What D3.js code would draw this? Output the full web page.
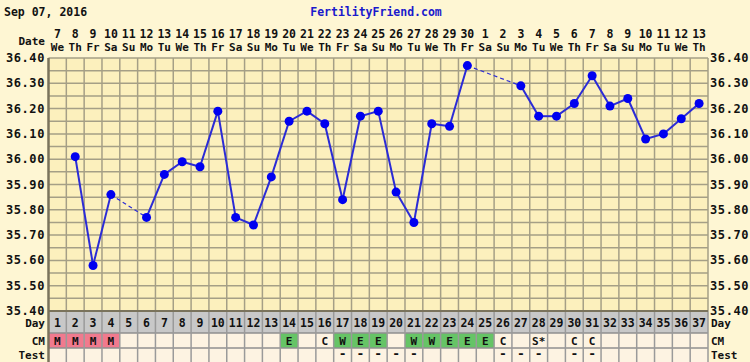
<!DOCTYPE html>
<html>
<head>
<meta charset="utf-8">
<script src="https://cdn.jsdelivr.net/npm/d3@7"></script>
<style>
  html, body { margin: 0; padding: 0; background: #fef6d3; }
  svg { display: block; }
  text { font-family: "DejaVu Sans Mono", monospace; font-weight: bold; fill: #111; }
</style>
</head>
<body>
<svg id="chart"></svg>
<script>
// chart data
const dayNums = [1,2,3,4,5,6,7,8,9,10,11,12,13,14,15,16,17,18,19,20,21,22,23,24,25,26,27,28,29,30,31,32,33,34,35,36,37];
const dates = [7,8,9,10,11,12,13,14,15,16,17,18,19,20,21,22,23,24,25,26,27,28,29,30,1,2,3,4,5,6,7,8,9,10,11,12,13];
const weekdays = ["We","Th","Fr","Sa","Su","Mo","Tu","We","Th","Fr","Sa","Su","Mo","Tu","We","Th","Fr","Sa","Su","Mo","Tu","We","Th","Fr","Sa","Su","Mo","Tu","We","Th","Fr","Sa","Su","Mo","Tu","We","Th"];
const temps = [null,36.01,35.58,35.86,null,35.77,35.94,35.99,35.97,36.19,35.77,35.74,35.93,36.15,36.19,36.14,35.84,36.17,36.19,35.87,35.75,36.14,36.13,36.37,null,null,36.29,36.17,36.17,36.22,36.33,36.21,36.24,36.08,36.10,36.16,36.22];
const cm = ["M","M","M","M","","","","","","","","","","E","","C","W","E","E","","W","W","E","E","E","C","","S*","","C","C","","","","","",""];
const tests = ["","","","","","","","","","","","","","","","","-","-","-","-","-","","","","","-","-","-","","-","-","","","","","",""];
const yTicks = [36.40,36.30,36.20,36.10,36.00,35.90,35.80,35.70,35.60,35.50,35.40];

const W = 750, H = 362;
const pLeft = 48.5, pRight = 708, pTop = 58, pBottom = 311;

const svg = d3.select("#chart").attr("width", W).attr("height", H);

const x = d3.scaleBand().domain(dayNums).range([pLeft, pRight]);
const y = d3.scaleLinear().domain([35.40, 36.40]).range([pBottom, pTop]);
const cx = d => x(d) + x.bandwidth() / 2;

// header
svg.append("text").attr("x", 4).attr("y", 16).style("font-size", "11.5px").text("Sep 07, 2016");
svg.append("text").attr("x", 376).attr("y", 16).attr("text-anchor", "middle")
  .style("font-size", "11.5px").style("fill", "#1a1acc").text("FertilityFriend.com");
svg.append("text").attr("x", 45).attr("y", 45).attr("text-anchor", "end").style("font-size", "11px").text("Date");

svg.append("g").selectAll("text").data(dayNums).join("text")
  .attr("x", d => cx(d)).attr("y", 38).attr("text-anchor", "middle")
  .style("font-size", "11.5px").text((d, i) => dates[i]);
svg.append("g").selectAll("text").data(dayNums).join("text")
  .attr("x", d => cx(d)).attr("y", 51).attr("text-anchor", "middle")
  .style("font-size", "11px").text((d, i) => weekdays[i]);

// plot background
svg.append("rect").attr("x", pLeft).attr("y", pTop).attr("width", pRight - pLeft).attr("height", pBottom - pTop)
  .attr("fill", "#fcf0bd");

// grid
const gridColor = "#a59f86";
const hLines = d3.range(0, 21).map(i => 35.40 + i * 0.05);
const colEdges = dayNums.slice(1).map(d => x(d)).concat([pRight]);
svg.append("g").selectAll("line").data(hLines).join("line")
  .attr("x1", pLeft).attr("x2", pRight).attr("y1", d => y(d)).attr("y2", d => y(d))
  .attr("stroke", gridColor).attr("stroke-width", 1.5);
svg.append("g").selectAll("line").data(colEdges).join("line")
  .attr("x1", d => d).attr("x2", d => d)
  .attr("y1", pTop).attr("y2", pBottom)
  .attr("stroke", gridColor).attr("stroke-width", 1.5);

// y labels
svg.append("g").selectAll("text").data(yTicks).join("text")
  .attr("x", 45).attr("y", d => y(d) + 4).attr("text-anchor", "end")
  .style("font-size", "12px").style("letter-spacing", "0.6px").text(d => d.toFixed(2));
svg.append("g").selectAll("text").data(yTicks).join("text")
  .attr("x", 710).attr("y", d => y(d) + 4)
  .style("font-size", "12px").style("letter-spacing", "0.6px").text(d => d.toFixed(2));

// lower rows
const rowDay = [311, 333], rowCm = [333, 348], rowTest = [348, 364];
svg.append("rect").attr("x", pLeft).attr("y", rowDay[0]).attr("width", pRight - pLeft).attr("height", rowDay[1] - rowDay[0]).attr("fill", "#c8c8c8");
svg.append("rect").attr("x", pLeft).attr("y", rowCm[0]).attr("width", pRight - pLeft).attr("height", rowTest[1] - rowCm[0]).attr("fill", "#fdf3e2");

const cmFill = v => v === "M" ? "#f07a8e" : (v === "E" || v === "W") ? "#66c466" : null;
svg.append("g").selectAll("rect").data(dayNums.filter((d, i) => cmFill(cm[i]))).join("rect")
  .attr("x", d => x(d)).attr("y", rowCm[0]).attr("width", x.bandwidth()).attr("height", rowCm[1] - rowCm[0])
  .attr("fill", d => cmFill(cm[d - 1]));

svg.append("g").selectAll("line").data([rowDay[1], rowCm[1]]).join("line")
  .attr("x1", pLeft).attr("x2", pRight).attr("y1", d => d).attr("y2", d => d)
  .attr("stroke", "#8f8f8f").attr("stroke-width", 1.5);
svg.append("g").selectAll("line").data(colEdges).join("line")
  .attr("x1", d => d).attr("x2", d => d)
  .attr("y1", pBottom).attr("y2", H)
  .attr("stroke", "#9a9a9a").attr("stroke-width", 1.5);
svg.append("line").attr("x1", pLeft).attr("x2", pRight).attr("y1", pBottom).attr("y2", pBottom)
  .attr("stroke", "#7a735c").attr("stroke-width", 2);
svg.append("line").attr("x1", pLeft).attr("x2", pLeft).attr("y1", pTop).attr("y2", H)
  .attr("stroke", "#7a735c").attr("stroke-width", 2.5);

svg.append("g").selectAll("text").data(dayNums).join("text")
  .attr("x", d => cx(d)).attr("y", 327).attr("text-anchor", "middle")
  .style("font-size", "11.5px").text(d => d);
svg.append("g").selectAll("text").data(dayNums.filter((d, i) => cm[i])).join("text")
  .attr("x", d => cx(d)).attr("y", 344.5).attr("text-anchor", "middle")
  .style("font-size", "11px").text(d => cm[d - 1]);
svg.append("g").selectAll("text").data(dayNums.filter((d, i) => tests[i])).join("text")
  .attr("x", d => cx(d)).attr("y", 358).attr("text-anchor", "middle")
  .style("font-size", "13px").text(d => tests[d - 1]);

// row labels
[["Day", 327], ["CM", 345], ["Test", 359]].forEach(([t, ty]) => {
  svg.append("text").attr("x", 45).attr("y", ty).attr("text-anchor", "end").style("font-size", "11px").text(t);
  svg.append("text").attr("x", 711).attr("y", ty).style("font-size", "11px").text(t);
});

// temperature line: solid between consecutive days, dashed across gaps
const pts = dayNums.map((d, i) => ({ d, v: temps[i] })).filter(p => p.v !== null);
const segs = d3.pairs(pts).map(([a, b]) => ({ a, b, gap: b.d - a.d > 1 }));
svg.append("g").selectAll("line").data(segs).join("line")
  .attr("x1", s => cx(s.a.d)).attr("y1", s => y(s.a.v))
  .attr("x2", s => cx(s.b.d)).attr("y2", s => y(s.b.v))
  .attr("stroke", "#2b2bd6")
  .attr("stroke-width", s => s.gap ? 1.2 : 2)
  .attr("stroke-dasharray", s => s.gap ? "4,3" : null);

svg.append("g").selectAll("circle").data(pts).join("circle")
  .attr("cx", p => cx(p.d)).attr("cy", p => y(p.v)).attr("r", 4.5)
  .attr("fill", "#0000f0");
</script>
</body>
</html>
